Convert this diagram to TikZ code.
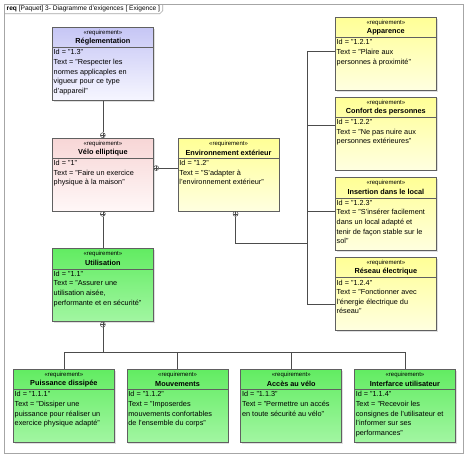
\documentclass[tikz,border=0pt]{standalone}
\usepackage{fontspec}
\setmainfont{Liberation Sans}
\usepackage{xcolor}
\usepackage{tikz}
\usetikzlibrary{positioning, calc, shadows}

\definecolor{bluetop}{HTML}{C6C6F5}
\definecolor{bluebot}{HTML}{F6F6FF}
\definecolor{pinktop}{HTML}{F7D6D6}
\definecolor{pinkbot}{HTML}{FFF7F7}
\definecolor{yellowtop}{HTML}{FFFF96}
\definecolor{yellowbot}{HTML}{FFFFE0}
\definecolor{greentop}{HTML}{62EC62}
\definecolor{greenbot}{HTML}{A2F6A2}

\newcommand{\stereo}{«requirement»}
% name, placement, colour, title, id, text
\newcommand{\reqnode}[6]{%
  \node[req, top color=#3top, bottom color=#3bot, #2] (#1) {};
  \node[reqst] (#1-st) at ([yshift=-5.8pt]#1.north) {\stereo};
  \node[reqtitle] (#1-title) at ([yshift=-14.8pt]#1.north) {#4};
  \draw[reqdiv] ([yshift=-20.5pt]#1.north west) -- ([yshift=-20.5pt]#1.north east);
  \node[reqbody] (#1-body) at ([xshift=0.5pt,yshift=-21.5pt]#1.north west) {Id = "#5"\\Text = #6};
}

\begin{document}
\begin{tikzpicture}[
    x=1pt, y=-1pt,
    req/.style={draw=gray!75!black, line width=0.7pt, minimum width=101pt, minimum height=73pt,
                inner sep=0pt, drop shadow={shadow xshift=1.3pt, shadow yshift=-1.3pt, opacity=0.25}},
    reqst/.style={font=\fontsize{6}{6.5}\selectfont, inner sep=0pt},
    reqtitle/.style={font=\fontsize{7.3}{8}\selectfont\bfseries, inner sep=0pt},
    reqdiv/.style={draw=gray!75!black, line width=0.5pt},
    reqbody/.style={anchor=north west, align=left, inner sep=1pt, font=\fontsize{7.3}{9.6}\selectfont},
    conn/.style={draw=gray!60!black, line width=0.7pt},
    plusmark/.style={circle, draw=gray!60!black, fill=white, minimum size=5pt, inner sep=0pt, line width=0.5pt,
                     path picture={\draw[line width=0.4pt, gray!60!black]
                       (path picture bounding box.north) -- (path picture bounding box.south)
                       (path picture bounding box.west) -- (path picture bounding box.east);}},
    frame/.style={draw=gray!70, line width=0.9pt},
    tabtext/.style={anchor=north west, inner xsep=2.5pt, inner ysep=1.6pt, font=\fontsize{6.6}{7}\selectfont}
]
    \path[use as bounding box, fill=white] (0,0) rectangle (474,463);

    % Frame
    \node[tabtext] (tab) at (4,4) {\textbf{req} [Paquet] 3- Diagramme d'exigences [ Exigence ]};
    \draw[frame] (4,4) rectangle (463,453);
    \draw[frame, line width=0.6pt] (tab.south west) -- ([xshift=-3pt]tab.south east) -- ([yshift=3pt]tab.south east) -- (tab.north east);

    % Left column
    \reqnode{regl}{anchor=north west, at={(52,27)}}{blue}{Réglementation}{1.3}{"Respecter les\\normes applicaples en\\vigueur pour ce type\\d'appareil"}
    \reqnode{velo}{below=37pt of regl}{pink}{Vélo elliptique}{1}{"Faire un exercice\\physique à la maison"}
    \reqnode{util}{below=37pt of velo}{green}{Utilisation}{1.1}{"Assurer une\\utilisation aisée,\\performante et en sécurité"}

    % Environment
    \reqnode{env}{right=24pt of velo}{yellow}{Environnement extérieur}{1.2}{"S'adapter à\\l'environnement extérieur"}

    % Right column
    \reqnode{app}{anchor=north west, at={(335,17)}}{yellow}{Apparence}{1.2.1}{"Plaire aux\\personnes à proximité"}
    \reqnode{conf}{below=6pt of app}{yellow}{Confort des personnes}{1.2.2}{"Ne pas nuire aux\\personnes extérieures"}
    \reqnode{ins}{below=7pt of conf}{yellow}{Insertion dans le local}{1.2.3}{"S'insérer facilement\\dans un local adapté et\\tenir de façon stable sur le\\sol"}
    \reqnode{res}{below=6pt of ins}{yellow}{Réseau électrique}{1.2.4}{"Fonctionner avec\\l'énergie électrique du\\réseau"}

    % Bottom row
    \reqnode{puis}{anchor=north west, at={(13,369)}}{green}{Puissance dissipée}{1.1.1}{"Dissiper une\\puissance pour réaliser un\\exercice physique adapté"}
    \reqnode{mouv}{right=12pt of puis}{green}{Mouvements}{1.1.2}{"Imposerdes\\mouvements confortables\\de l'ensemble du corps"}
    \reqnode{acces}{right=12pt of mouv}{green}{Accès au vélo}{1.1.3}{"Permettre un accés\\en toute sécurité au vélo"}
    \reqnode{inter}{right=12pt of acces}{green}{Interfarce utilisateur}{1.1.4}{"Recevoir les\\consignes de l'utilisateur et\\l'informer sur ses\\performances"}

    % Containment marks
    \node[plusmark] (pv-top) at ([yshift=2.5pt]velo.north) {};
    \node[plusmark] (pv-right) at ([xshift=2.5pt,yshift=6.5pt]velo.east) {};
    \node[plusmark] (pv-bot) at ([yshift=-2.5pt]velo.south) {};
    \node[plusmark] (pu-bot) at ([yshift=-2.5pt]util.south) {};
    \node[plusmark] (pe-bot) at ([xshift=7pt,yshift=-2.5pt]env.south) {};

    % Connectors
    \draw[conn] (regl) -- (pv-top);
    \draw[conn] (pv-right.east) -- (pv-right.east -| env.west);
    \draw[conn] (pv-bot) -- (util);

    \coordinate (ubus) at ($(pu-bot)+(0,27.5)$);
    \draw[conn] (pu-bot) -- (ubus);
    \draw[conn] (puis.north) |- (ubus) -| (inter.north);
    \draw[conn] (mouv.north) -- (mouv.north |- ubus);
    \draw[conn] (acces.north) -- (acces.north |- ubus);

    \coordinate (ebus) at (307,243);
    \coordinate (c-app) at ([yshift=3pt]app.west);
    \coordinate (c-conf) at ([yshift=8pt]conf.west);
    \coordinate (c-ins) at ([yshift=3pt]ins.west);
    \coordinate (c-res) at ([yshift=-10pt]res.west);
    \draw[conn] (pe-bot) |- (ebus);
    \draw[conn] (c-app) -- (c-app -| ebus) -- (c-res -| ebus) -- (c-res);
    \draw[conn] (c-conf) -- (c-conf -| ebus);
    \draw[conn] (c-ins) -- (c-ins -| ebus);
\end{tikzpicture}
\end{document}
